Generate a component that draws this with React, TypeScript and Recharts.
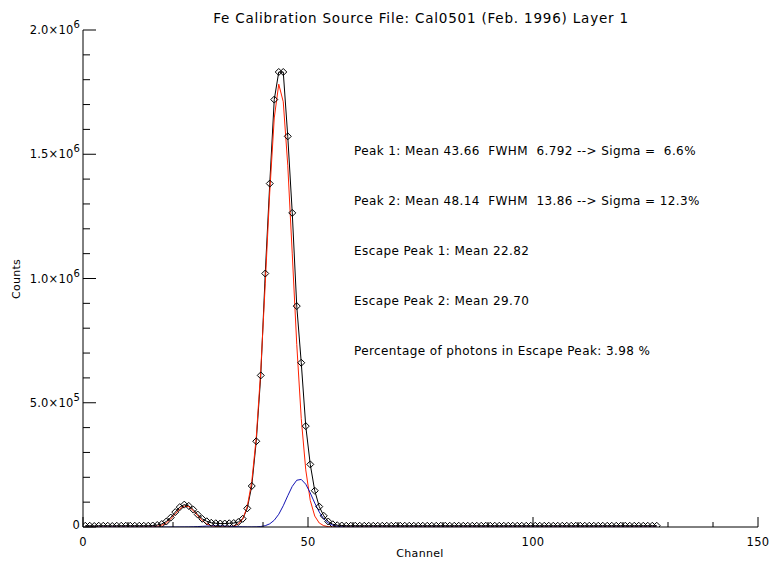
import React from 'react';
import { ComposedChart, Line, XAxis, YAxis } from 'recharts';

// channel centres (bins)
const CHANNELS = [
  0.5, 1.5, 2.5, 3.5, 4.5, 5.5, 6.5, 7.5, 8.5, 9.5,
  10.5, 11.5, 12.5, 13.5, 14.5, 15.5, 16.5, 17.5, 18.5, 19.5,
  20.5, 21.5, 22.5, 23.5, 24.5, 25.5, 26.5, 27.5, 28.5, 29.5,
  30.5, 31.5, 32.5, 33.5, 34.5, 35.5, 36.5, 37.5, 38.5, 39.5,
  40.5, 41.5, 42.5, 43.5, 44.5, 45.5, 46.5, 47.5, 48.5, 49.5,
  50.5, 51.5, 52.5, 53.5, 54.5, 55.5, 56.5, 57.5, 58.5, 59.5,
  60.5, 61.5, 62.5, 63.5, 64.5, 65.5, 66.5, 67.5, 68.5, 69.5,
  70.5, 71.5, 72.5, 73.5, 74.5, 75.5, 76.5, 77.5, 78.5, 79.5,
  80.5, 81.5, 82.5, 83.5, 84.5, 85.5, 86.5, 87.5, 88.5, 89.5,
  90.5, 91.5, 92.5, 93.5, 94.5, 95.5, 96.5, 97.5, 98.5, 99.5,
  100.5, 101.5, 102.5, 103.5, 104.5, 105.5, 106.5, 107.5, 108.5, 109.5,
  110.5, 111.5, 112.5, 113.5, 114.5, 115.5, 116.5, 117.5, 118.5, 119.5,
  120.5, 121.5, 122.5, 123.5, 124.5, 125.5, 126.5, 127.5,
];

// measured counts, in thousands
const MEASURED_K = [
  5, 5, 4, 5, 5, 5, 4, 5, 5, 5,
  5, 5, 5, 5, 5, 6, 8, 12, 22, 38,
  60, 80, 90, 85, 70, 50, 33, 23, 17, 15,
  14, 14, 15, 16, 20, 33, 75, 165, 345, 610,
  1020, 1382, 1720, 1831, 1831, 1572, 1264, 889, 661, 406,
  252, 146, 82, 45, 22, 11, 7, 6, 5, 5,
  5, 5, 5, 5, 5, 5, 5, 5, 5, 5,
  5, 5, 5, 5, 5, 5, 5, 5, 5, 5,
  5, 5, 5, 5, 5, 5, 5, 5, 5, 5,
  5, 5, 5, 5, 5, 5, 5, 5, 5, 5,
  5, 5, 5, 5, 5, 5, 5, 5, 5, 5,
  5, 5, 5, 5, 5, 5, 5, 5, 5, 5,
  5, 5, 5, 5, 5, 5, 5, 5,
];

// peak 1 + escape peak 1 fit (red), thousands
const PEAK1_FIT_K = [
  0, 0, 0, 0, 0, 0, 0, 0, 0, 0,
  0, 0, 0, 0.1, 0.3, 1, 2.5, 7, 16, 32,
  53, 73, 84, 82, 66, 45, 26, 12, 5, 2,
  0.8, 0.5, 1, 3.6, 11.5, 32.5, 82, 182, 360, 630,
  979, 1348, 1646, 1782, 1711, 1456, 1099, 735, 436, 230,
  107, 44, 16, 5.3, 1.5, 0.4, 0.1, 0, 0, 0,
  0, 0, 0, 0, 0, 0, 0, 0, 0, 0,
  0, 0, 0, 0, 0, 0, 0, 0, 0, 0,
  0, 0, 0, 0, 0, 0, 0, 0, 0, 0,
  0, 0, 0, 0, 0, 0, 0, 0, 0, 0,
  0, 0, 0, 0, 0, 0, 0, 0, 0, 0,
  0, 0, 0, 0, 0, 0, 0, 0, 0, 0,
  0, 0, 0, 0, 0, 0, 0, 0,
];

// peak 2 + escape peak 2 fit (blue), thousands
const PEAK2_FIT_K = [
  0, 0, 0, 0, 0, 0, 0, 0, 0, 0,
  0, 0, 0, 0, 0, 0, 0, 0, 0, 0,
  0, 0.1, 0.2, 0.4, 0.9, 1.7, 2.7, 3.7, 4.6, 5,
  4.8, 4.1, 3.1, 2.1, 1.2, 0.6, 0.3, 0.2, 0.6, 2,
  5.3, 12.8, 27.2, 51.3, 85.4, 125.7, 163.5, 188.2, 191.5, 172.2,
  137, 96.3, 59.9, 32.9, 16, 6.9, 2.6, 0.9, 0.3, 0,
  0, 0, 0, 0, 0, 0, 0, 0, 0, 0,
  0, 0, 0, 0, 0, 0, 0, 0, 0, 0,
  0, 0, 0, 0, 0, 0, 0, 0, 0, 0,
  0, 0, 0, 0, 0, 0, 0, 0, 0, 0,
  0, 0, 0, 0, 0, 0, 0, 0, 0, 0,
  0, 0, 0, 0, 0, 0, 0, 0, 0, 0,
  0, 0, 0, 0, 0, 0, 0, 0,
];

const X_TICKS = [0, 10, 20, 30, 40, 50, 60, 70, 80, 90, 100, 110, 120, 130, 140, 150];
const X_MAJOR = [0, 50, 100, 150];
const Y_TICKS = [0, 100000, 200000, 300000, 400000, 500000, 600000, 700000, 800000, 900000, 1000000,
  1100000, 1200000, 1300000, 1400000, 1500000, 1600000, 1700000, 1800000, 1900000, 2000000];
const Y_LABELS: Record<number, [string, string]> = {
  0: ['0', ''],
  500000: ['5.0×10', '5'],
  1000000: ['1.0×10', '6'],
  1500000: ['1.5×10', '6'],
  2000000: ['2.0×10', '6'],
};

const TITLE = 'Fe Calibration Source File: Cal0501 (Feb. 1996) Layer 1';
const NOTES = [
  'Peak 1: Mean 43.66  FWHM  6.792 --> Sigma =  6.6%',
  'Peak 2: Mean 48.14  FWHM  13.86 --> Sigma = 12.3%',
  'Escape Peak 1: Mean 22.82',
  'Escape Peak 2: Mean 29.70',
  'Percentage of photons in Escape Peak: 3.98 %',
];

const rows = CHANNELS.map((ch, i) => ({
  ch,
  measured: MEASURED_K[i] * 1000,
  peak1: PEAK1_FIT_K[i] * 1000,
  peak2: PEAK2_FIT_K[i] * 1000,
}));

const font = '"DejaVu Sans", sans-serif';
const RED = '#ff2000';
const BLUE = '#1414b4';

const BottomTick = ({ x, y, payload }: any) => {
  const major = X_MAJOR.includes(payload.value);
  return (
    <g>
      <line x1={x} x2={x} y1={y} y2={y - (major ? 10 : 5)} stroke="#000" />
      {major && (
        <text x={x} y={y + 15} textAnchor="middle" dominantBaseline="central" fontSize={11.5}
          letterSpacing={0.3} fontFamily={font} fill="#000">
          {payload.value}
        </text>
      )}
    </g>
  );
};

const TopTick = ({ x, y, payload }: any) => {
  const major = X_MAJOR.includes(payload.value);
  return <line x1={x} x2={x} y1={y} y2={y + (major ? 10 : 5)} stroke="#000" />;
};

const LeftTick = ({ x, y, payload }: any) => {
  const lbl = Y_LABELS[payload.value];
  return (
    <g>
      <line x1={x} x2={x + (lbl ? 13 : 7)} y1={y} y2={y} stroke="#000" />
      {lbl && (
        <text x={x - 3} y={lbl[1] ? y : y - 2} textAnchor="end" dominantBaseline="central" fontSize={11.5}
          letterSpacing={0.2} fontFamily={font} fill="#000">
          {lbl[0]}
          {lbl[1] && <tspan dy={-6} fontSize={10}>{lbl[1]}</tspan>}
        </text>
      )}
    </g>
  );
};

const RightTick = ({ x, y, payload }: any) => {
  const major = Y_LABELS[payload.value] !== undefined;
  return <line x1={x} x2={x - (major ? 13 : 7)} y1={y} y2={y} stroke="#000" />;
};

const diamond = (p: any) => {
  const { cx, cy, index } = p;
  if (cx == null || cy == null) return <g key={index} />;
  const r = 3.5;
  return (
    <path
      key={index}
      d={`M${cx},${cy - r}L${cx + r},${cy}L${cx},${cy + r}L${cx - r},${cy}Z`}
      fill="none"
      stroke="#000"
      strokeWidth={1}
    />
  );
};

export default function App() {
  return (
    <div style={{ position: 'relative', width: 770, height: 563, background: '#fff' }}>
      <style>{'body{margin:0}'}</style>
      <ComposedChart width={770} height={563} data={rows} margin={{ top: 30, right: 12, bottom: 0, left: 8 }}>
        <XAxis xAxisId="bottom" dataKey="ch" type="number" domain={[0, 150]} ticks={X_TICKS} interval={0}
          height={36} tickSize={0} tickMargin={0} tick={<BottomTick />} tickLine={false}
          axisLine={{ stroke: '#000' }} allowDataOverflow />
        <XAxis xAxisId="top" orientation="top" dataKey="ch" type="number" domain={[0, 150]} ticks={X_TICKS} interval={0}
          height={0} tickSize={0} tickMargin={0} tick={<TopTick />} tickLine={false}
          axisLine={{ stroke: '#000' }} allowDataOverflow />
        <YAxis yAxisId="left" type="number" domain={[0, 2000000]} ticks={Y_TICKS} interval={0}
          width={75} tickSize={0} tickMargin={0} tick={<LeftTick />} tickLine={false}
          axisLine={{ stroke: '#000' }} allowDataOverflow />
        <YAxis yAxisId="right" orientation="right" type="number" domain={[0, 2000000]} ticks={Y_TICKS} interval={0}
          width={0} tickSize={0} tickMargin={0} tick={<RightTick />} tickLine={false}
          axisLine={{ stroke: '#000' }} allowDataOverflow />
        <Line xAxisId="bottom" yAxisId="left" type="linear" dataKey="measured" stroke="#000" strokeWidth={1}
          dot={diamond} activeDot={false} isAnimationActive={false} />
        <Line xAxisId="bottom" yAxisId="left" type="linear" dataKey="peak1" stroke={RED} strokeWidth={1}
          dot={false} activeDot={false} isAnimationActive={false} />
        <Line xAxisId="bottom" yAxisId="left" type="linear" dataKey="peak2" stroke={BLUE} strokeWidth={1}
          dot={false} activeDot={false} isAnimationActive={false} />
      </ComposedChart>
      <svg width={770} height={563} style={{ position: 'absolute', left: 0, top: 0, pointerEvents: 'none' }}>
        <text x={421} y={18} textAnchor="middle" dominantBaseline="central" fontSize={13.5} letterSpacing={0.8}
          fontFamily={font}>{TITLE}</text>
        <text x={420} y={553} textAnchor="middle" dominantBaseline="central" fontSize={11} letterSpacing={0.3}
          fontFamily={font}>Channel</text>
        <text x={16} y={279} textAnchor="middle" dominantBaseline="central" fontSize={11} letterSpacing={0.3}
          fontFamily={font} transform="rotate(-90 16 279)">Counts</text>
        {NOTES.map((t, i) => (
          <text key={i} x={354} y={151 + i * 50} dominantBaseline="central" fontSize={12} letterSpacing={0.4}
            fontFamily={font} style={{ whiteSpace: 'pre' }}>{t}</text>
        ))}
      </svg>
    </div>
  );
}
